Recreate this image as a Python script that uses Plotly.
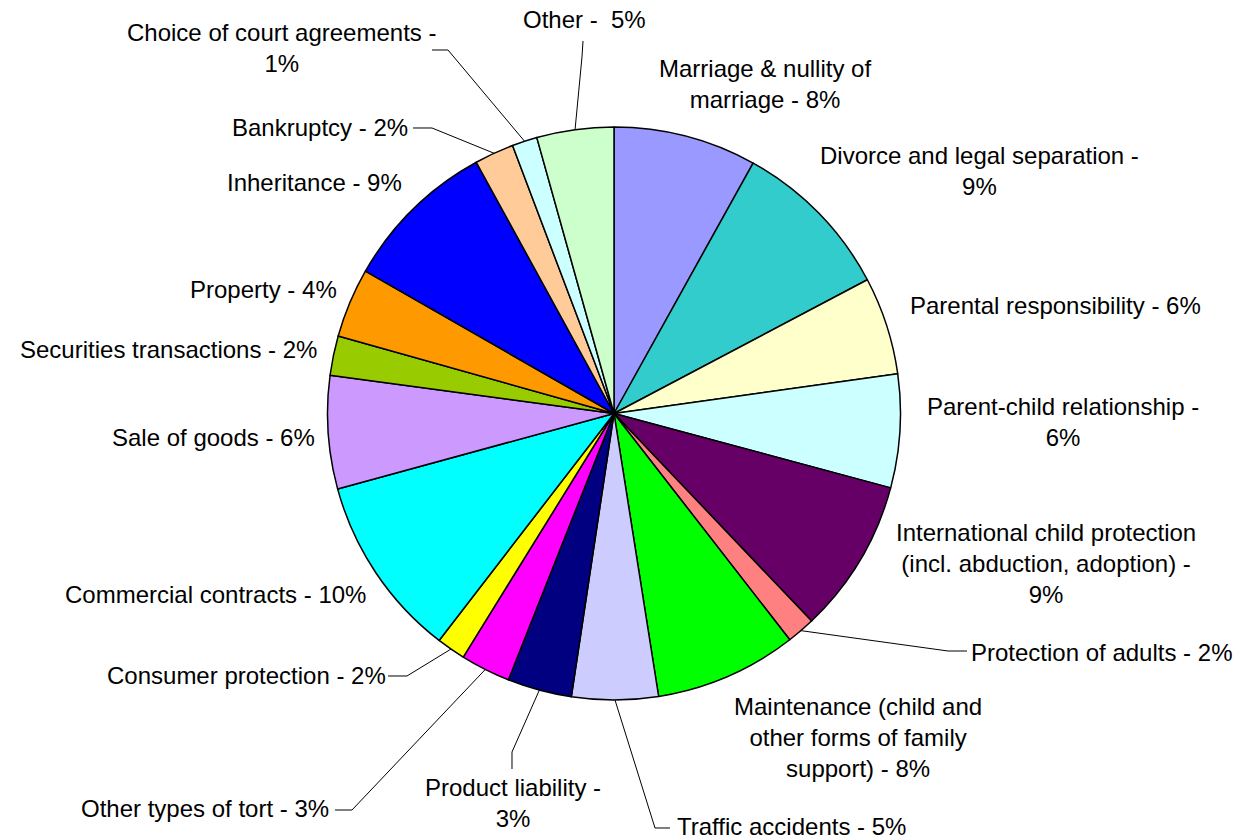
import math
import plotly.graph_objects as go

# ---------------- data ----------------
categories = [
    "Marriage & nullity of marriage",
    "Divorce and legal separation",
    "Parental responsibility",
    "Parent-child relationship",
    "International child protection (incl. abduction, adoption)",
    "Protection of adults",
    "Maintenance (child and other forms of family support)",
    "Traffic accidents",
    "Product liability",
    "Other types of tort",
    "Consumer protection",
    "Commercial contracts",
    "Sale of goods",
    "Securities transactions",
    "Property",
    "Inheritance",
    "Bankruptcy",
    "Choice of court agreements",
    "Other",
]
values = [8.07, 9.20, 5.51, 6.40, 8.71, 1.60, 8.02, 4.87, 3.63, 2.81,
          1.63, 10.31, 6.37, 2.23, 3.92, 8.74, 2.22, 1.42, 4.34]
shown_pct = [8, 9, 6, 6, 9, 2, 8, 5, 3, 3, 2, 10, 6, 2, 4, 9, 2, 1, 5]

# ---------------- styles / layout ----------------
colors = ["#9999FF", "#33CCCC", "#FFFFCC", "#CCFFFF", "#660066", "#FF8080",
          "#00FF00", "#CCCCFF", "#000080", "#FF00FF", "#FFFF00", "#00FFFF",
          "#CC99FF", "#99CC00", "#FF9900", "#0000FF", "#FFCC99", "#CCFFFF",
          "#CCFFCC"]

# label text (line-wrapped names) -> "name - pct%"
wrapped_names = [
    "Marriage &amp; nullity of<br>marriage",
    "Divorce and legal separation -<br>",
    "Parental responsibility",
    "Parent-child relationship -<br>",
    "International child protection<br>(incl. abduction, adoption) -<br>",
    "Protection of adults",
    "Maintenance (child and<br>other forms of family<br>support)",
    "Traffic accidents",
    "Product liability -<br>",
    "Other types of tort",
    "Consumer protection",
    "Commercial contracts",
    "Sale of goods",
    "Securities transactions",
    "Property",
    "Inheritance",
    "Bankruptcy",
    "Choice of court agreements -<br>",
    "Other - ",
]

W, H = 1240, 840
CX, CY, R = 614.0, 413.5, 286.5

# label centres in pixels
label_xy = [
    (765, 84), (979, 171), (1055, 305), (1063, 422), (1046, 563),
    (1101, 652), (858, 737), (791, 826), (513, 803), (205, 808),
    (246, 675), (215, 594), (213, 437), (168, 349), (263, 289),
    (314, 182), (320, 127), (281, 48), (584, 19),
]
# leader line points (label side first); pie end computed from data
leaders = {
    5: [(967, 651), (948, 651)],
    7: [(670, 828), (655, 828)],
    8: [(512, 769), (512, 752)],
    9: [(335, 810), (352, 810)],
    10: [(388, 676), (407, 676)],
    16: [(413, 128), (432, 128)],
    17: [(432, 50), (448, 50)],
    18: [(583, 41), (582, 57)],
}

FONT = "Liberation Sans, Arial, sans-serif"


def px(x):
    return x / W


def py(y):
    return 1 - y / H


fig = go.Figure()
fig.add_trace(go.Pie(
    labels=categories,
    values=values,
    sort=False,
    direction="clockwise",
    rotation=0,
    marker=dict(colors=colors, line=dict(color="#000000", width=1.5)),
    textinfo="none",
    hoverinfo="skip",
    showlegend=False,
    domain=dict(x=[(CX - R) / W, (CX + R) / W], y=[1 - (CY + R) / H, 1 - (CY - R) / H]),
))

total = sum(values)
cum = 0.0
mids = []
for v in values:
    mids.append((cum + v / 2) / total)
    cum += v

annotations = []
for i, name in enumerate(wrapped_names):
    if name.endswith(" - "):
        text = f"{name} {shown_pct[i]}%"
    elif name.endswith("<br>"):
        text = f"{name}{shown_pct[i]}%"
    else:
        text = f"{name} - {shown_pct[i]}%"
    lx, ly = label_xy[i]
    annotations.append(dict(
        x=px(lx), y=py(ly), xref="paper", yref="paper",
        text=text, showarrow=False, xanchor="center", yanchor="middle",
        align="center", font=dict(family=FONT, size=24, color="#000000"),
    ))

shapes = []
for i, pts in leaders.items():
    th = 2 * math.pi * mids[i]
    ex = CX + R * math.sin(th)
    ey = CY - R * math.cos(th)
    allpts = pts + [(ex, ey)]
    path = "M " + " L ".join(f"{px(x):.5f},{py(y):.5f}" for x, y in allpts)
    shapes.append(dict(type="path", path=path, xref="paper", yref="paper",
                       line=dict(color="#000000", width=1), layer="above"))

fig.update_layout(
    width=W, height=H,
    margin=dict(l=0, r=0, t=0, b=0),
    paper_bgcolor="#FFFFFF",
    plot_bgcolor="#FFFFFF",
    annotations=annotations,
    shapes=shapes,
    font=dict(family=FONT),
)

fig.write_html("out.html",
               config={"displayModeBar": False},
               post_script="document.body.style.margin='0';document.body.style.overflow='hidden';")
